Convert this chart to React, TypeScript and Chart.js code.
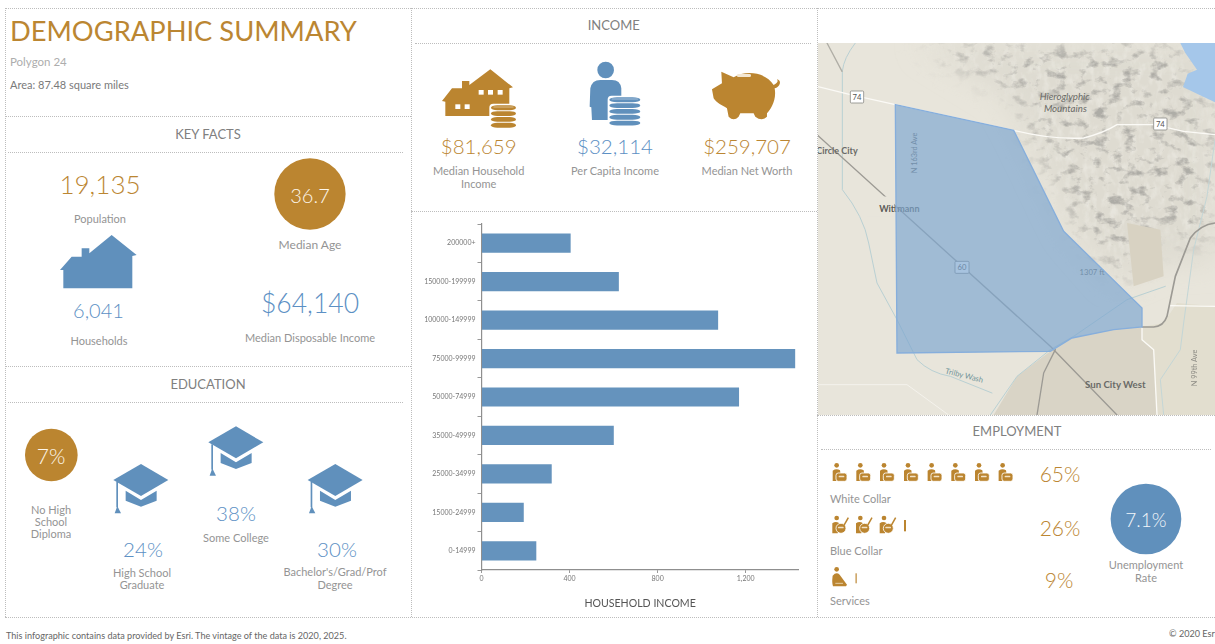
import React, { useEffect, useRef } from "react";
import { Chart, registerables } from "chart.js";

Chart.register(...registerables);

const incomeBands = ["200000+", "150000-199999", "100000-149999", "75000-99999", "50000-74999", "35000-49999", "25000-34999", "15000-24999", "0-14999"];
const incomeCounts = [405, 624, 1075, 1425, 1170, 601, 319, 192, 249];
const countTicks = [0, 400, 800, 1200];
const axisTitle = "HOUSEHOLD INCOME";

const GOLD = "#bb8530";
const GOLD_TEXT = "#bb8632";
const BLUE = "#6090bc";
const BLUE_TEXT = "#5c90c4";
const LABEL = "#949494";
const FONT = "Lato, 'Open Sans', sans-serif";

type TP = { x: number; y: number; s: number; c?: string; a?: "l" | "c"; w?: number; ls?: number; children: React.ReactNode };
function T({ x, y, s, c = LABEL, a = "c", w = 400, ls = 0, children }: TP) {
  return (
    <div
      style={{
        position: "absolute", left: x, top: y, fontSize: s, color: c, fontWeight: w, letterSpacing: ls,
        whiteSpace: "nowrap", lineHeight: 1, fontFamily: FONT,
        transform: a === "c" ? "translate(-50%,-50%)" : "translateY(-50%)",
      }}
    >
      {children}
    </div>
  );
}

function H({ x1, x2, y }: { x1: number; x2: number; y: number }) {
  return <div style={{ position: "absolute", left: x1, top: y, width: x2 - x1, borderTop: "1.5px dotted #bdbdbd" }} />;
}
function V({ x, y1, y2 }: { x: number; y1: number; y2: number }) {
  return <div style={{ position: "absolute", left: x, top: y1, height: y2 - y1, borderLeft: "1.5px dotted #bdbdbd" }} />;
}

function Coins({ x, y, w, n, c }: { x: number; y: number; w: number; n: number; c: string }) {
  const layers = [];
  for (let i = 0; i < n; i++) {
    layers.push(<rect key={i} x={x} y={y + i * 17.5} width={w} height={14.5} rx={w / 4} ry={7.2} fill={c} />);
  }
  return (
    <g>
      <rect x={x - 5} y={y - 5} width={w + 10} height={n * 17.5 + 8} fill="#fff" rx={12} />
      {layers}
      <rect x={x + 7} y={y + 3.5} width={w - 14} height={3} rx={1.5} fill="#fff" opacity={0.45} />
    </g>
  );
}

function Cap({ dx, dy }: { dx: number; dy: number }) {
  return (
    <g transform={`translate(${dx},${dy})`} fill={BLUE}>
      <polygon points="340,330 423,282 505,330 423,378" />
      <polygon points="377,362 423,390 470,362 470,392 423,410 377,392" />
      <rect x={349} y={336} width={5} height={76} />
      <polygon points="344,430 352,408 363,430" />
    </g>
  );
}

function Seated({ dx, dy, kind }: { dx: number; dy: number; kind: number }) {
  return (
    <g transform={`translate(${dx},${dy})`} fill={GOLD}>
      <circle cx={59} cy={166} r={7} />
      {kind === 0 && (
        <g>
          <path d="M47 182 Q58 174 69 181 L72 200 L62 213 L47 213 Z" />
          <rect x={57} y={189} width={33} height={25} rx={7} stroke="#fff" strokeWidth={2.5} />
          <rect x={65} y={197} width={17} height={5} rx={2} fill="#f2e2c6" />
        </g>
      )}
      {kind === 1 && (
        <g>
          <path d="M46 182 Q56 174 66 181 L68 196 L62 212 L46 212 Z" />
          <circle cx={72} cy={197} r={15} stroke="#fff" strokeWidth={2.5} />
          <rect x={63} y={192} width={17} height={5} rx={2} fill="#f2e2c6" />
          <path d="M80 190 L94 165" stroke={GOLD} strokeWidth={4.5} fill="none" />
        </g>
      )}
      {kind === 2 && (
        <g>
          <path d="M47 185 Q58 172 68 182 L90 212 L87 217 L48 217 Q44 205 47 185 Z" />
          <path d="M55 208 L78 208" stroke="#e6cfa6" strokeWidth={3} />
        </g>
      )}
    </g>
  );
}

function MapView() {
  const poly = "235,225 590,302 740,605 975,835 975,892 890,900 765,925 700,965 240,970";
  return (
    <svg style={{ position: "absolute", left: 818, top: 43 }} width={397} height={372} viewBox="3 40 1191 1116">
      <defs>
        <filter id="hill" x="0" y="0" width="100%" height="100%">
          <feTurbulence type="fractalNoise" baseFrequency="0.024 0.034" numOctaves="4" seed="23" />
          <feColorMatrix type="matrix" values="0 0 0 0 0.42  0 0 0 0 0.41  0 0 0 0 0.38  4 0 0 0 -2.15" />
          <feGaussianBlur stdDeviation="2" />
        </filter>
        <filter id="ridge" x="0" y="0" width="100%" height="100%">
          <feTurbulence type="fractalNoise" baseFrequency="0.05 0.03" numOctaves="3" seed="7" />
          <feColorMatrix type="matrix" values="0 0 0 0 0.95  0 0 0 0 0.94  0 0 0 0 0.9  0 2.5 0 0 -1.1" />
          <feGaussianBlur stdDeviation="2" />
        </filter>
        <filter id="soft"><feGaussianBlur stdDeviation="40" /></filter>
        <mask id="hm">
          <polygon points="300,40 1100,40 1120,190 1194,230 1194,620 1060,640 1020,560 930,760 800,620 660,360 600,190" fill="#fff" filter="url(#soft)" />
        </mask>
        <clipPath id="wit"><rect x={0} y={500} width={232} height={80} /></clipPath>
      </defs>
      <rect x={0} y={0} width={1194} height={1160} fill="#e8e5db" />
      <polygon points="300,40 1194,40 1194,700 1040,700 900,760 760,600 620,310 560,200" fill="#dedbd1" filter="url(#soft)" />
      <rect x={0} y={0} width={1194} height={1160} filter="url(#ridge)" mask="url(#hm)" opacity={0.35} />
      <rect x={0} y={0} width={1194} height={1160} filter="url(#hill)" mask="url(#hm)" />
      <polygon points="530,1156 600,1040 700,965 765,925 890,900 975,892 975,930 1010,960 1020,1156" fill="#d9d4c6" />
      <polygon points="1020,1156 1010,960 975,930 975,892 1040,880 1080,820 1194,830 1194,1156" fill="#e2decf" />
      <polygon points="930,580 1030,600 1040,740 950,770" fill="#d8d2c2" />
      <path d="M1090 40 L1194 40 L1194 218 L1140 192 L1098 172 L1112 132 L1140 120 L1105 70 Z" fill="#a5c7ea" />
      <g fill="none" strokeLinecap="round" strokeLinejoin="round">
        <path d="M115 40 Q80 85 76 125 L76 480 Q140 560 155 640 L180 760 L240 870 L300 990 Q340 1030 400 1040 L525 1090" stroke="#b9d0d3" strokeWidth={3} />
        <path d="M520 1156 L600 1040 L700 960 L770 920 L930 810 L1045 770" stroke="#b9d0d3" strokeWidth={3} />
        <path d="M1194 330 L1170 500 L1130 660 L1100 880 L1090 960 L1030 1050 L1040 1156" stroke="#c4d6d6" strokeWidth={3} />
        <path d="M0 170 L100 195 L235 225 L590 302 Q700 330 800 325 Q860 310 900 285 L1010 285 L1100 305 L1194 315" stroke="#fbfaf6" strokeWidth={4} />
        <path d="M1060 828 L1194 830" stroke="#fbfaf6" strokeWidth={4} />
        <path d="M975 892 L975 930 L1010 960 L1020 1156" stroke="#fbfaf6" strokeWidth={4} />
        <path d="M0 1065 L270 1065 L395 1156" stroke="#f4f2ec" strokeWidth={3} />
        <path d="M0 315 L700 950 L900 1156" stroke="#9c9a94" strokeWidth={4} />
        <path d="M1194 580 Q1150 585 1120 625 L1075 740 L1050 860 Q1040 890 1010 892 L975 892" stroke="#9c9a94" strokeWidth={5} />
        <path d="M660 1156 L680 1030 L715 960" stroke="#9c9a94" strokeWidth={4} />
        <path d="M30 40 L75 125" stroke="#b0aea6" strokeWidth={4} />
      </g>
      <rect x={414} y={695} width={42} height={36} fill="#fff" stroke="#777" strokeWidth={2.5} rx={3} />
      <text x={435} y={722} textAnchor="middle" fontSize={23} fill="#444" fontFamily={FONT}>60</text>
      <g fontFamily={FONT} fill="#5a5a56">
        <text x={247} y={546} textAnchor="middle" fontSize={27} fontWeight={700}>Wittmann</text>
        <text x={825} y={737} textAnchor="middle" fontSize={23}>1307 ft</text>
        <text transform="translate(300,370) rotate(-90)" textAnchor="middle" fontSize={22}>N 163rd Ave</text>
      </g>
      <polygon points={poly} fill="#7da6d0" fillOpacity={0.68} stroke="#86aedc" strokeWidth={4} />
      <g clipPath="url(#wit)">
        <rect x={150} y={500} width={82} height={60} fill="#e8e5db" />
        <text x={247} y={546} textAnchor="middle" fontSize={27} fontWeight={700} fill="#5a5a56" fontFamily={FONT}>Wittmann</text>
      </g>
      {[[120, 202], [1030, 283]].map(([x, y]) => (
        <g key={x}>
          <rect x={x - 20} y={y - 18} width={40} height={36} fill="#fff" stroke="#8d8d88" strokeWidth={2.5} rx={3} />
          <text x={x} y={y + 8} textAnchor="middle" fontSize={23} fill="#555" fontFamily={FONT}>74</text>
        </g>
      ))}
      <g fontFamily={FONT} fill="#6a6a66">
        <text x={743} y={210} textAnchor="middle" fontSize={29} fontStyle="italic">Hieroglyphic</text>
        <text x={745} y={246} textAnchor="middle" fontSize={29} fontStyle="italic">Mountains</text>
        <text x={60} y={372} textAnchor="middle" fontSize={27} fontWeight={700}>Circle City</text>
        <text x={895} y={1074} textAnchor="middle" fontSize={29} fontWeight={700}>Sun City West</text>
        <text transform="translate(1140,1015) rotate(-90)" textAnchor="middle" fontSize={22} opacity={0.7}>N 99th Ave</text>
      </g>
      <text transform="translate(440,1045) rotate(14)" textAnchor="middle" fontSize={23} fill="#6f9399" fontFamily={FONT}>Trilby Wash</text>
    </svg>
  );
}

export default function App() {
  const ref = useRef<HTMLCanvasElement>(null);
  useEffect(() => {
    const chart = new Chart(ref.current!, {
      type: "bar",
      data: {
        labels: incomeBands,
        datasets: [{ data: incomeCounts, backgroundColor: "#6593bd", barPercentage: 0.5, categoryPercentage: 1 }],
      },
      options: {
        indexAxis: "y",
        animation: false,
        responsive: false,
        layout: { padding: { top: 9, right: 18.3, left: 0, bottom: 0 } },
        plugins: { legend: { display: false }, tooltip: { enabled: false } },
        scales: {
          x: {
            min: 0,
            max: 1441,
            afterBuildTicks: (s: any) => { s.ticks = countTicks.map((value) => ({ value })); },
            ticks: { font: { size: 7, family: "Lato" }, color: "#777", maxRotation: 0, padding: 2, callback: (v: number) => v.toLocaleString("en-US") },
            grid: { drawOnChartArea: false, drawTicks: true, tickLength: 3, color: "#999" },
            border: { color: "#8f8f8f", width: 1.2 },
            title: { display: true, text: axisTitle, font: { size: 10.6, family: "Lato" }, color: "#555", padding: { top: 4, bottom: 5 } },
            afterFit: (s: any) => { s.height = 45; },
          },
          y: {
            ticks: { font: { size: 7, family: "Lato" }, color: "#777", padding: 2, autoSkip: false },
            grid: { drawOnChartArea: false, drawTicks: true, tickLength: 4, color: "#999" },
            border: { color: "#8f8f8f", width: 1.2 },
            afterFit: (s: any) => { s.width = 69.5; },
          },
        },
      },
    } as any);
    return () => chart.destroy();
  }, []);

  const whiteCollarX = [0, 71, 142, 214, 285, 356, 427, 498];
  return (
    <div style={{ position: "fixed", left: 0, top: 0, width: 1215, height: 644, overflow: "hidden", background: "#fff", filter: "blur(0.7px)" }}>
      <MapView />
      <H x1={5} x2={411} y={8} /><H x1={411} x2={817} y={8} /><H x1={817} x2={1215} y={8} />
      <H x1={5} x2={411} y={116} /><H x1={8} x2={403} y={152} />
      <H x1={5} x2={411} y={366} /><H x1={8} x2={403} y={402} />
      <H x1={5} x2={1215} y={617} />
      <H x1={415} x2={811} y={43} /><H x1={411} x2={817} y={211} />
      <H x1={817} x2={1215} y={415} /><H x1={821} x2={1211} y={449} />
      <V x={5} y1={8} y2={617} /><V x={411} y1={8} y2={617} /><V x={817} y1={8} y2={617} />

      <svg style={{ position: "absolute", left: 0, top: 0 }} width={1215} height={644}>
        <g transform="scale(0.3333)">
          <polygon points="180,810 215,770 245,770 245,745 268,745 268,760 335,705 410,765 397,768 397,865 190,865 190,810" fill={BLUE} />
          <circle cx={930} cy={582} r={107} fill={GOLD} />
        </g>
        <g transform="translate(0,370) scale(0.3333)">
          <circle cx={154} cy={255} r={79} fill={GOLD} />
          <Cap dx={0} dy={0} /><Cap dx={285} dy={-113} /><Cap dx={583} dy={0} />
        </g>
        <g transform="translate(412,0) scale(0.3333)">
          <polygon points="90,303 120,265 150,265 150,243 172,243 172,255 235,208 303,262 292,265 292,348 100,348 100,305" fill={GOLD} />
          {[200, 228, 257].map((x) => <rect key={x} x={x} y={270} width={15} height={14} fill="#fff" />)}
          {[130, 158].map((x) => <rect key={x} x={x} y={313} width={15} height={14} fill="#fff" />)}
          <Coins x={237} y={316} w={75} n={4} c={GOLD} />
          <circle cx={581} cy={210} r={25} fill={BLUE} />
          <path d="M533 320 L535 265 Q540 240 565 240 L600 240 Q625 240 628 265 L628 360 L540 360 L538 322 Z" fill={BLUE} />
          <Coins x={592} y={292} w={93} n={5} c={BLUE} />
          <path d="M900 268 L930 250 L928 215 L965 232 C1000 210 1060 215 1085 255 C1095 250 1100 245 1095 238 C1110 240 1105 262 1088 265 C1095 300 1075 330 1065 340 L1065 350 Q1050 365 1030 350 L1025 340 L985 340 L980 350 Q965 365 950 350 L945 325 C930 315 915 310 905 295 Z" fill={GOLD} />
          <rect x={975} y={222} width={42} height={9} rx={4} fill="#f3e7d3" />
        </g>
        <g transform="translate(817,410) scale(0.3333)">
          {whiteCollarX.map((d) => <Seated key={d} dx={d} dy={0} kind={0} />)}
          {[0, 71, 142].map((d) => <Seated key={d} dx={d} dy={158} kind={1} />)}
          <rect x={261} y={330} width={6} height={34} fill={GOLD} />
          <Seated dx={0} dy={312} kind={2} />
          <rect x={115} y={490} width={5} height={30} fill={GOLD} opacity={0.7} />
          <circle cx={987} cy={327} r={106} fill={BLUE} />
        </g>
      </svg>

      <T x={10} y={31} s={27.3} c={GOLD_TEXT} a="l">DEMOGRAPHIC SUMMARY</T>
      <T x={10} y={61.5} s={11.5} c="#adadad" a="l">Polygon 24</T>
      <T x={10} y={84} s={11} c="#7a7a7a" a="l">Area: 87.48 square miles</T>
      <T x={208} y={134} s={13} c="#808080">KEY FACTS</T>
      <T x={100} y={184} s={26} w={300} c={GOLD_TEXT}>19,135</T>
      <T x={100} y={218} s={11}>Population</T>
      <T x={310} y={195} s={20} w={300} c="#fdf6ea">36.7</T>
      <T x={310} y={245} s={12}>Median Age</T>
      <T x={98.5} y={310} s={20} w={300} c={BLUE_TEXT}>6,041</T>
      <T x={99} y={340} s={11}>Households</T>
      <T x={310} y={303} s={26.5} w={300} c={BLUE_TEXT}>$64,140</T>
      <T x={310} y={337} s={11}>Median Disposable Income</T>
      <T x={208} y={384} s={13} c="#808080">EDUCATION</T>
      <T x={51} y={455} s={21} w={300} c="#fdf6ea">7%</T>
      <T x={51} y={509} s={11}>No High</T>
      <T x={51} y={521} s={11}>School</T>
      <T x={51} y={533} s={11}>Diploma</T>
      <T x={143} y={549} s={20.5} w={300} c={BLUE_TEXT}>24%</T>
      <T x={142} y={571.7} s={11}>High School</T>
      <T x={142} y={584} s={11}>Graduate</T>
      <T x={236} y={513} s={20.5} w={300} c={BLUE_TEXT}>38%</T>
      <T x={236} y={537} s={11}>Some College</T>
      <T x={337} y={549} s={20.5} w={300} c={BLUE_TEXT}>30%</T>
      <T x={335} y={571} s={11}>Bachelor's/Grad/Prof</T>
      <T x={335} y={584} s={11}>Degree</T>
      <T x={6} y={636} s={9.1} c="#666" a="l">This infographic contains data provided by Esri. The vintage of the data is 2020, 2025.</T>

      <T x={613.7} y={25} s={13} c="#808080">INCOME</T>
      <T x={478.7} y={146} s={20.5} w={300} c={GOLD_TEXT}>$81,659</T>
      <T x={478.7} y={169.5} s={11}>Median Household</T>
      <T x={478.7} y={182.5} s={11}>Income</T>
      <T x={615} y={146} s={20.5} w={300} c={BLUE_TEXT}>$32,114</T>
      <T x={615} y={169.5} s={11}>Per Capita Income</T>
      <T x={747} y={146} s={20.5} w={300} c={GOLD_TEXT}>$259,707</T>
      <T x={747} y={169.5} s={11}>Median Net Worth</T>

      <canvas ref={ref} width={405} height={400} style={{ position: "absolute", left: 412, top: 215 }} />

      <T x={1017} y={431} s={13} c="#808080">EMPLOYMENT</T>
      <T x={1060} y={473} s={21} w={300} c={GOLD_TEXT}>65%</T>
      <T x={1060} y={527} s={21} w={300} c={GOLD_TEXT}>26%</T>
      <T x={1059} y={579} s={21} w={300} c={GOLD_TEXT}>9%</T>
      <T x={830} y={498} s={11} a="l">White Collar</T>
      <T x={830} y={550} s={11} a="l">Blue Collar</T>
      <T x={830} y={600} s={11} a="l">Services</T>
      <T x={1146} y={519} s={19} w={300} c="#f2f6fa">7.1%</T>
      <T x={1146} y={564} s={11}>Unemployment</T>
      <T x={1146} y={577} s={11}>Rate</T>
      <T x={1169} y={634} s={9.1} c="#666" a="l">© 2020 Esri</T>
    </div>
  );
}
